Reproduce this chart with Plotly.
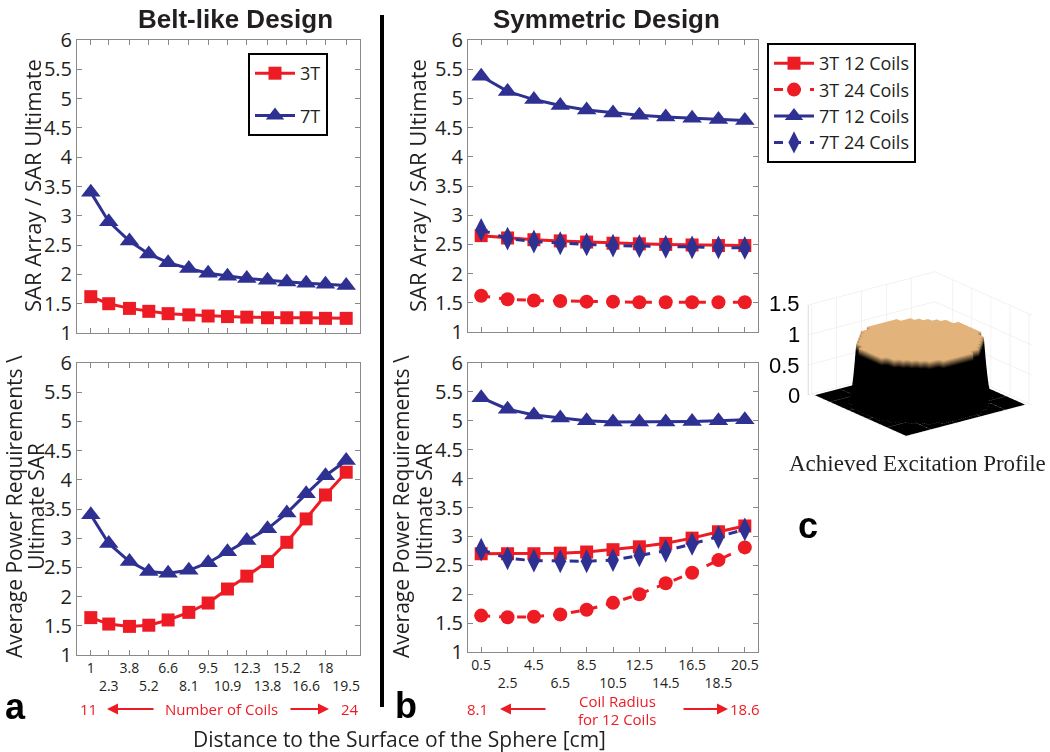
import plotly.graph_objects as go

# ---------------- data ----------------
belt_dist = [1, 2.3, 3.8, 5.2, 6.6, 8.1, 9.5, 10.9, 12.3, 13.8, 15.2, 16.6, 18, 19.5]
belt_sar_3t = [1.62, 1.50, 1.42, 1.37, 1.33, 1.31, 1.29, 1.28, 1.27, 1.26, 1.26, 1.26, 1.25, 1.25]
belt_sar_7t = [3.40, 2.90, 2.57, 2.35, 2.20, 2.10, 2.02, 1.97, 1.93, 1.90, 1.87, 1.85, 1.83, 1.81]
belt_pow_3t = [1.64, 1.53, 1.49, 1.51, 1.60, 1.73, 1.89, 2.13, 2.35, 2.60, 2.93, 3.33, 3.74, 4.13]
belt_pow_7t = [3.40, 2.91, 2.60, 2.43, 2.40, 2.45, 2.58, 2.77, 2.96, 3.16, 3.43, 3.76, 4.07, 4.33]

sym_dist = [0.5, 2.5, 4.5, 6.5, 8.5, 10.5, 12.5, 14.5, 16.5, 18.5, 20.5]
sym_sar_3t12 = [2.65, 2.61, 2.58, 2.56, 2.54, 2.52, 2.51, 2.50, 2.49, 2.48, 2.48]
sym_sar_3t24 = [1.62, 1.56, 1.54, 1.53, 1.52, 1.52, 1.51, 1.51, 1.51, 1.51, 1.51]
sym_sar_7t12 = [5.38, 5.12, 4.98, 4.88, 4.80, 4.75, 4.71, 4.68, 4.66, 4.64, 4.62]
sym_sar_7t24 = [2.75, 2.60, 2.55, 2.52, 2.50, 2.48, 2.47, 2.46, 2.45, 2.45, 2.44]
sym_pow_3t12 = [2.70, 2.70, 2.70, 2.71, 2.73, 2.77, 2.82, 2.88, 2.97, 3.08, 3.18]
sym_pow_3t24 = [1.63, 1.60, 1.61, 1.65, 1.73, 1.85, 2.00, 2.19, 2.37, 2.59, 2.81]
sym_pow_7t12 = [5.40, 5.20, 5.10, 5.05, 5.00, 4.98, 4.98, 4.98, 4.99, 5.00, 5.02]
sym_pow_7t24 = [2.77, 2.62, 2.58, 2.57, 2.57, 2.59, 2.67, 2.75, 2.87, 2.99, 3.12]

y_ticks = [1, 1.5, 2, 2.5, 3, 3.5, 4, 4.5, 5, 5.5, 6]
z_ticks = [0, 0.5, 1, 1.5]

# achieved excitation profile (1 = excited, 0 = not), 25 x 25 grid
profile_rows = [
    "0000000000000000000000000",
    "0000000000000000000000000",
    "0000000001111111000000000",
    "0000000111111111110000000",
    "0000001111111111111000000",
    "0000011111111111111100000",
    "0000111111111111111110000",
    "0001111111111111111111000",
    "0001111111111111111111000",
    "0011111111111111111111100",
    "0011111111111111111111100",
    "0011111111111111111111100",
    "0011111111111111111111100",
    "0011111111111111111111100",
    "0011111111111111111111100",
    "0011111111111111111111100",
    "0001111111111111111111000",
    "0001111111111111111111000",
    "0000111111111111111110000",
    "0000011111111111111100000",
    "0000001111111111111000000",
    "0000000111111111110000000",
    "0000000001111111000000000",
    "0000000000000000000000000",
    "0000000000000000000000000",
]
profile_z = [[float(c) for c in row] for row in profile_rows]

# ---------------- style ----------------
W, H = 1050, 752
RED = "#ed1c24"
BLUE = "#2e3192"
TXT = "#231f20"
FONT = "Open Sans, Noto Sans, sans-serif"


def X(p):
    return p / W


def Y(p):
    return 1 - p / H


def two_row(vals):
    out = []
    for i, v in enumerate(vals):
        s = f"{v:g}"
        out.append(s if i % 2 == 0 else "<br>" + s)
    return out


fig = go.Figure()


def add(x, y, name, color, symbol, size, dash, xa, ya, legend=None, show=False, group=None):
    fig.add_trace(go.Scatter(
        x=x, y=y, name=name, mode="lines+markers",
        line=dict(color=color, width=3, dash=dash),
        marker=dict(symbol=symbol, size=size, color=color),
        xaxis=xa, yaxis=ya, showlegend=show,
        legend=legend if legend else "legend",
        legendgroup=group, hoverinfo="skip",
    ))


# panel a top
add(belt_dist, belt_sar_3t, "3T", RED, "square", 13, "solid", "x", "y", "legend", True, "g1")
add(belt_dist, belt_sar_7t, "7T", BLUE, "triangle-up", 17, "solid", "x", "y", "legend", True, "g2")
# panel a bottom
add(belt_dist, belt_pow_3t, "3T", RED, "square", 13, "solid", "x2", "y2")
add(belt_dist, belt_pow_7t, "7T", BLUE, "triangle-up", 17, "solid", "x2", "y2")
# panel b top
add(sym_dist, sym_sar_3t12, "3T 12 Coils", RED, "square", 13, "solid", "x3", "y3", "legend2", True)
add(sym_dist, sym_sar_3t24, "3T 24 Coils", RED, "circle", 14, "dash", "x3", "y3", "legend2", True)
add(sym_dist, sym_sar_7t12, "7T 12 Coils", BLUE, "triangle-up", 17, "solid", "x3", "y3", "legend2", True)
add(sym_dist, sym_sar_7t24, "7T 24 Coils", BLUE, "diamond-tall", 17, "dash", "x3", "y3", "legend2", True)
# panel b bottom
add(sym_dist, sym_pow_3t12, "3T 12 Coils", RED, "square", 13, "solid", "x4", "y4")
add(sym_dist, sym_pow_3t24, "3T 24 Coils", RED, "circle", 14, "dash", "x4", "y4")
add(sym_dist, sym_pow_7t12, "7T 12 Coils", BLUE, "triangle-up", 17, "solid", "x4", "y4")
add(sym_dist, sym_pow_7t24, "7T 24 Coils", BLUE, "diamond-tall", 17, "dash", "x4", "y4")

# 3D excitation profile
fig.add_trace(go.Surface(
    z=profile_z, surfacecolor=profile_z, cmin=0, cmax=1,
    colorscale=[[0, "#000000"], [0.88, "#000000"], [1, "#e2b37a"]],
    showscale=False, scene="scene", hoverinfo="skip",
    lighting=dict(ambient=0.95, diffuse=0.15, specular=0.0, roughness=1),
))


def xax(dom, rng, vals, labels, anchor):
    return dict(
        domain=dom, range=rng, anchor=anchor, automargin=False,
        tickmode="array", tickvals=vals, ticktext=labels if labels else [""] * len(vals),
        showticklabels=bool(labels), tickangle=0,
        ticks="inside", ticklen=5, tickcolor="#888", tickwidth=1,
        showline=True, linecolor="#8a8a8a", linewidth=1, mirror="allticks",
        showgrid=False, zeroline=False,
        tickfont=dict(family=FONT, size=14, color=TXT),
    )


def yax(dom, anchor):
    return dict(
        domain=dom, range=[1, 6], anchor=anchor, automargin=False,
        tickmode="array", tickvals=y_ticks, ticktext=[f"{v:g}" for v in y_ticks],
        ticks="inside", ticklen=5, tickcolor="#888", tickwidth=1,
        showline=True, linecolor="#8a8a8a", linewidth=1, mirror="allticks",
        showgrid=False, zeroline=False,
        tickfont=dict(family=FONT, size=20, color=TXT),
    )


ax_l = [X(77), X(360)]
ax_r = [X(468), X(758)]
top_a = [Y(333), Y(40)]
bot_a = [Y(655), Y(363)]
top_b = [Y(332), Y(40)]
bot_b = [Y(652), Y(363)]

annotations = []


def txt(x, y, text, size, color=TXT, angle=0, bold=False, family=FONT, xanchor="center"):
    annotations.append(dict(
        x=X(x), y=Y(y), xref="paper", yref="paper", text=f"<b>{text}</b>" if bold else text,
        showarrow=False, textangle=angle, xanchor=xanchor, yanchor="middle",
        font=dict(family=family, size=size, color=color),
    ))


def arrow(x_head, x_tail, y):
    annotations.append(dict(
        x=X(x_head), y=Y(y), xref="paper", yref="paper", text="",
        showarrow=True, ax=x_tail - x_head, ay=0, axref="pixel", ayref="pixel",
        arrowhead=2, arrowsize=1, arrowwidth=2.2, arrowcolor=RED,
    ))


NARROW = "Liberation Sans Narrow, Arial Narrow, sans-serif"
txt(235, 19, "Belt-like Design", 26, bold=True, family=NARROW)
txt(606, 19, "Symmetric Design", 26, bold=True, family=NARROW)

txt(32, 186, "SAR Array / SAR Ultimate", 22, angle=-90)
txt(417, 186, "SAR Array / SAR Ultimate", 22, angle=-90)
txt(14, 507, "Average Power Requirements \\", 21, angle=-90)
txt(36, 507, "Ultimate SAR", 21, angle=-90)
txt(401, 507, "Average Power Requirements \\", 21, angle=-90)
txt(424, 507, "Ultimate SAR", 21, angle=-90)

# red coil annotations
txt(88, 709, "11", 15, RED)
arrow(107, 155, 709)
txt(221, 709, "Number of Coils", 15, RED)
arrow(329, 289, 709)
txt(350, 709, "24", 15, RED)

txt(477, 709, "8.1", 15, RED)
arrow(500, 547, 709)
txt(617, 701, "Coil Radius", 15, RED)
txt(617, 719, "for 12 Coils", 15, RED)
arrow(728, 682, 709)
txt(745, 709, "18.6", 15, RED)

txt(15, 706, "a", 36, "#000", bold=True, family="Liberation Sans, Arial, sans-serif")
txt(406, 705, "b", 36, "#000", bold=True, family="Liberation Sans, Arial, sans-serif")
txt(808, 525, "c", 36, "#000", bold=True, family="Liberation Sans, Arial, sans-serif")

txt(399, 739, "Distance to the Surface of the Sphere [cm]", 21)
txt(917, 463, "Achieved Excitation Profile", 23, family="Liberation Serif, Times New Roman, serif")

# z tick labels of the 3D profile
z_label_y = [396, 365, 334, 303]
for zv, zy in zip(z_ticks, z_label_y):
    txt(802, zy, f"{zv:g}", 22, "#000", family="Liberation Sans, Arial, sans-serif", xanchor="right")

shapes = [dict(type="line", xref="paper", yref="paper", x0=X(382), x1=X(382),
               y0=Y(15), y1=Y(707), line=dict(color="#000", width=4))]

ax3d = dict(showticklabels=False, title=dict(text=""), showgrid=True, gridcolor="#e6e6e6",
            zeroline=False, showbackground=False, showspikes=False, ticks="",
            showline=False)

S = 1.52
fig.update_layout(
    template="none",
    width=W, height=H, margin=dict(l=0, r=0, t=0, b=0, pad=0),
    paper_bgcolor="white", plot_bgcolor="white",
    xaxis=xax(ax_l, [0, 20.5], belt_dist, None, "y"),
    yaxis=yax(top_a, "x"),
    xaxis2=xax(ax_l, [0, 20.5], belt_dist, two_row(belt_dist), "y2"),
    yaxis2=yax(bot_a, "x2"),
    xaxis3=xax(ax_r, [-0.5, 21.5], sym_dist, None, "y3"),
    yaxis3=yax(top_b, "x3"),
    xaxis4=xax(ax_r, [-0.5, 21.5], sym_dist, two_row(sym_dist), "y4"),
    yaxis4=yax(bot_b, "x4"),
    scene=dict(
        domain=dict(x=[X(790), X(1050)], y=[Y(460), Y(250)]),
        xaxis=ax3d, yaxis=ax3d,
        zaxis=dict(range=[0, 1.5], tickvals=z_ticks, showticklabels=False,
                   title=dict(text=""), showgrid=True, gridcolor="#e6e6e6", zeroline=False,
                   showbackground=False, showspikes=False, ticks="", showline=True,
                   linecolor="#bbbbbb"),
        aspectmode="manual", aspectratio=dict(x=S, y=S, z=0.6 * S),
        camera=dict(projection=dict(type="orthographic"),
                    eye=dict(x=-0.572 * 1.4, y=-0.746 * 1.4, z=0.342 * 1.4),
                    center=dict(x=0, y=0, z=0)),
    ),
    legend=dict(
        x=X(248), y=Y(53), xanchor="left", yanchor="top",
        bordercolor="#000", borderwidth=2, bgcolor="white",
        font=dict(family=FONT, size=18, color=TXT), tracegroupgap=16,
        traceorder="grouped", itemwidth=40,
    ),
    legend2=dict(
        x=X(767), y=Y(43), xanchor="left", yanchor="top",
        bordercolor="#000", borderwidth=2, bgcolor="white",
        font=dict(family=FONT, size=18, color=TXT), itemwidth=40,
    ),
    annotations=annotations,
    shapes=shapes,
)

fig.write_html("out.html", config={"displayModeBar": False},
               post_script="document.body.style.margin='0px';")
